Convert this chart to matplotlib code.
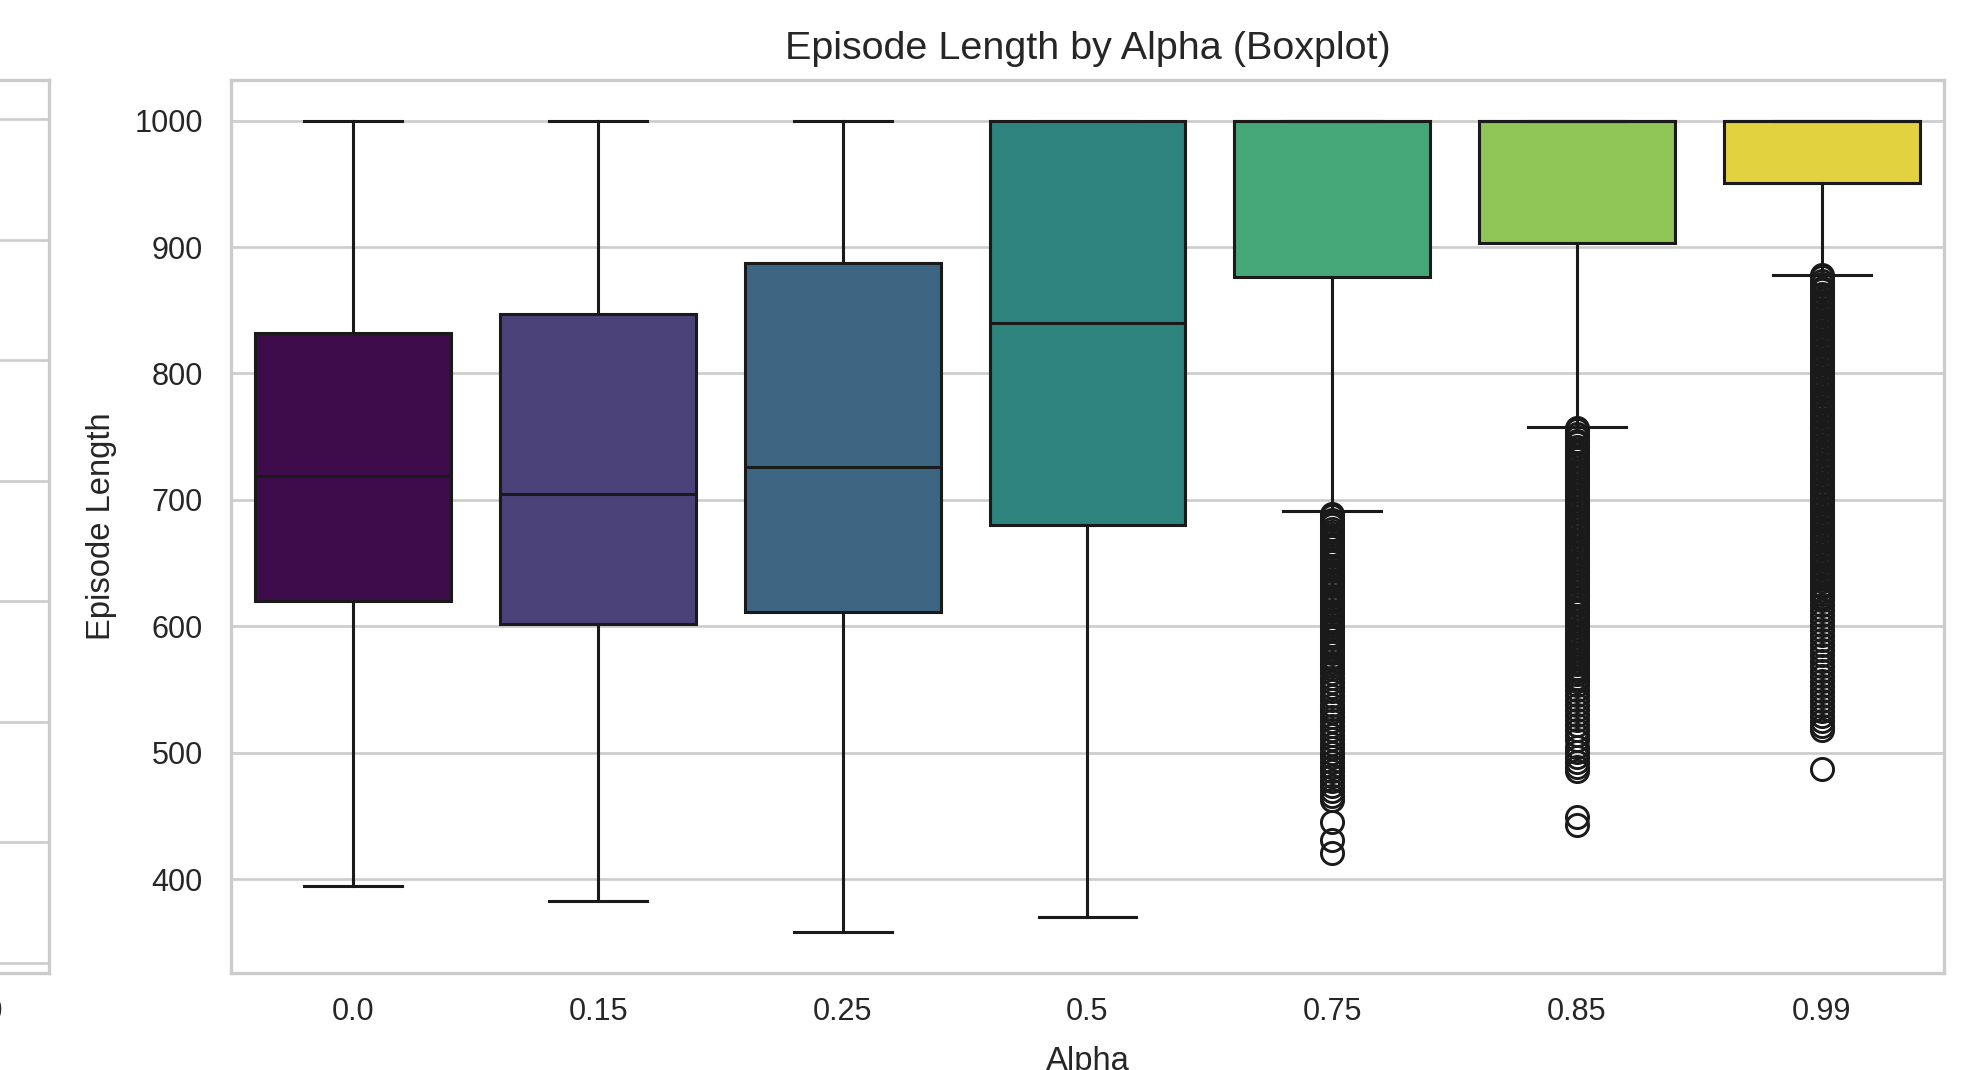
import colorsys
import numpy as np
import matplotlib
matplotlib.use("Agg")
import matplotlib.pyplot as plt

# valores
alphas = ["0.0", "0.15", "0.25", "0.5", "0.75", "0.85", "0.99"]
q1 = [620, 602, 611, 680, 876, 903, 951]
medianas = [719, 705, 726, 840, 1000, 1000, 1000]
q3 = [832, 847, 887, 1000, 1000, 1000, 1000]
bigote_bajo = [395, 383, 358, 370, 691, 758, 878]
bigote_alto = [1000, 1000, 1000, 1000, 1000, 1000, 1000]

atipicos_075 = [689, 687, 684, 682, 680, 677, 675, 672, 670, 668, 665, 663, 660, 658,
                656, 653, 651, 648, 646, 644, 641, 639, 636, 634, 632, 629, 627, 624,
                622, 620, 617, 615, 612, 610, 608, 605, 603, 600, 598, 596, 593, 591,
                588, 586, 584, 581, 579, 576, 574, 571, 569, 566, 563, 559, 556, 552,
                549, 545, 542, 538, 535, 532, 528, 525, 521, 518, 514, 511, 507, 504,
                500, 497, 493, 489, 486, 482, 478, 474, 470, 466, 463, 445, 431, 421]
atipicos_085 = [757, 755, 752, 750, 747, 745, 742, 739, 737, 734, 732, 729, 727, 724,
                721, 719, 716, 714, 711, 709, 706, 703, 701, 698, 696, 693, 691, 688,
                685, 683, 680, 678, 675, 673, 670, 667, 665, 662, 660, 657, 655, 652,
                649, 647, 644, 642, 639, 637, 634, 631, 629, 626, 624, 621, 619, 616,
                613, 611, 608, 606, 603, 601, 598, 595, 593, 590, 588, 585, 583, 580,
                577, 575, 572, 570, 567, 565, 562, 559, 557, 554, 550, 546, 542, 538,
                534, 530, 526, 522, 518, 514, 510, 505, 501, 497, 493, 489, 486, 449, 443]
atipicos_099 = [878, 876, 873, 871, 868, 866, 863, 861, 858, 856, 853, 851, 848, 846,
                843, 841, 838, 836, 833, 831, 828, 826, 823, 821, 818, 816, 813, 811,
                808, 806, 803, 801, 798, 796, 793, 791, 788, 786, 783, 781, 778, 776,
                773, 771, 768, 766, 763, 761, 758, 756, 753, 751, 748, 746, 743, 741,
                738, 736, 733, 731, 728, 726, 723, 721, 718, 716, 713, 711, 708, 706,
                703, 701, 698, 696, 693, 691, 688, 686, 683, 681, 678, 676, 673, 671,
                668, 666, 663, 661, 658, 656, 653, 651, 648, 646, 643, 641, 638, 636,
                633, 631, 628, 626, 623, 621, 617, 613, 609, 605, 601, 597, 593, 589,
                585, 581, 577, 573, 569, 565, 561, 557, 553, 549, 545, 541, 537, 533,
                529, 525, 521, 518, 487]
atipicos = [[], [], [], [], atipicos_075, atipicos_085, atipicos_099]


def desaturar(color, prop):
    h, l, s = colorsys.rgb_to_hls(*color[:3])
    return colorsys.hls_to_rgb(h, l, s * prop)


def run():
    plt.rcParams['font.family'] = ['Liberation Sans', 'DejaVu Sans']
    gris = '#cccccc'
    texto = '#262626'
    linea = (0.1, 0.1, 0.1)

    fig = plt.figure(figsize=(1961 / 192, 1070 / 192), dpi=192)
    ax0 = fig.add_axes([-1711 / 1961, 97 / 1070, 1760 / 1961, 893 / 1070])
    ax = fig.add_axes([231 / 1961, 97 / 1070, 1713 / 1961, 893 / 1070])

    # subgrafico izquierdo, casi fuera del recorte
    ax0.set_xlim(-50, 1050)
    ax0.set_xticks([1000])
    ax0.set_ylim(-0.0855, 7.325)
    ax0.set_yticks(range(8))
    ax0.set_yticklabels([])
    ax0.grid(True, axis='y', color=gris, linewidth=1.0)

    cmap = plt.get_cmap('viridis')
    colores = [desaturar(cmap(i / 6), 0.75) for i in range(7)]

    stats = []
    for i in range(len(alphas)):
        stats.append(dict(med=medianas[i], q1=q1[i], q3=q3[i],
                          whislo=bigote_bajo[i], whishi=bigote_alto[i],
                          fliers=np.array(atipicos[i]), label=alphas[i]))

    lw = 1.15
    cajas = ax.bxp(stats, positions=range(7), widths=0.8, patch_artist=True,
                   boxprops=dict(edgecolor=linea, linewidth=lw),
                   medianprops=dict(color=linea, linewidth=lw),
                   whiskerprops=dict(color=linea, linewidth=lw),
                   capprops=dict(color=linea, linewidth=lw),
                   flierprops=dict(marker='o', markersize=8.3, markerfacecolor='none',
                                   markeredgecolor=linea, markeredgewidth=1.1))
    for caja, c in zip(cajas['boxes'], colores):
        caja.set_facecolor(c)

    ax.set_xlim(-0.5, 6.5)
    ax.set_xticks(range(7))
    ax.set_xticklabels(alphas)
    ax.grid(True, axis='y', color=gris, linewidth=1.0)

    for a in (ax0, ax):
        a.set_axisbelow(True)
        for s in a.spines.values():
            s.set_color(gris)
            s.set_linewidth(1.25)
        a.tick_params(axis='x', length=0, pad=9, labelsize=11.5, labelcolor=texto)
        a.tick_params(axis='y', length=0, pad=10.5, labelsize=11.5, labelcolor=texto)

    ax.set_title("Episode Length by Alpha (Boxplot)", fontsize=14.8, color=texto, pad=8)
    ax.set_xlabel("Alpha", fontsize=12.3, color=texto, labelpad=7)
    ax.set_ylabel("Episode Length", fontsize=12.3, color=texto, labelpad=6.5)

    fig.savefig("out.png", dpi=192)


if __name__ == '__main__':
    run()
